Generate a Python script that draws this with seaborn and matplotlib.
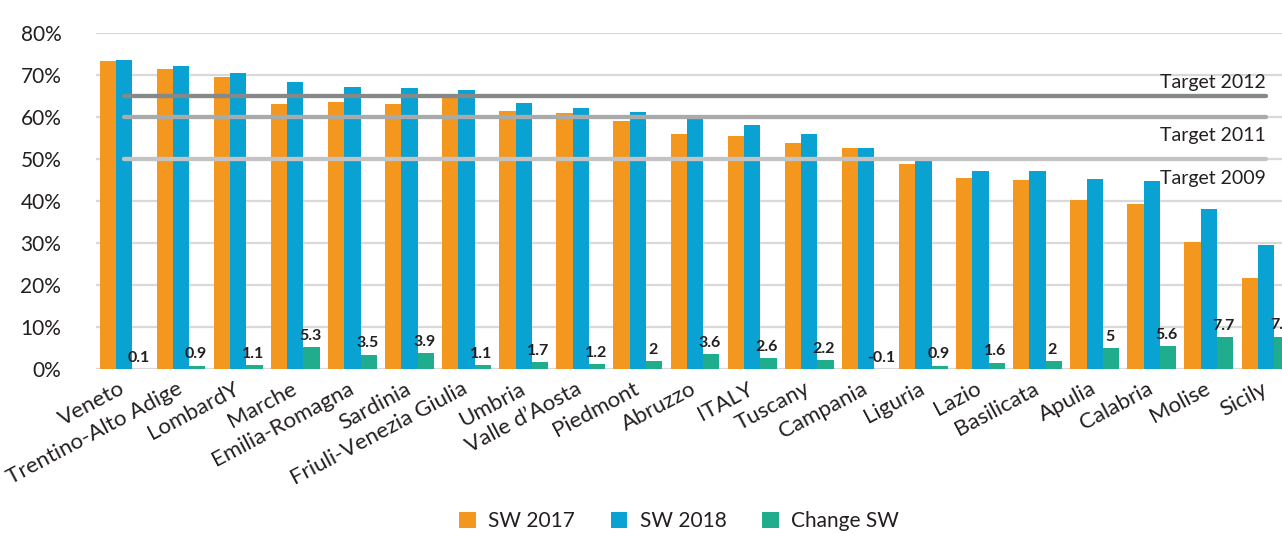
import matplotlib
matplotlib.use("Agg")
import matplotlib.pyplot as plt
import matplotlib.transforms as mtransforms
import seaborn as sns
import pandas as pd

# ---- data ----
regions = ["Veneto", "Trentino-Alto Adige", "LombardY", "Marche", "Emilia-Romagna",
           "Sardinia", "Friuli-Venezia Giulia", "Umbria", "Valle d’Aosta", "Piedmont",
           "Abruzzo", "ITALY", "Tuscany", "Campania", "Liguria", "Lazio", "Basilicata",
           "Apulia", "Calabria", "Molise", "Sicily"]
sw2017 = [73.5, 71.4, 69.5, 63.2, 63.7, 63.1, 65.4, 61.6, 61.0, 59.2, 56.1, 55.6,
          53.9, 52.7, 48.9, 45.6, 45.1, 40.3, 39.3, 30.4, 21.7]
sw2018 = [73.6, 72.3, 70.6, 68.5, 67.2, 67.0, 66.5, 63.3, 62.2, 61.2, 59.7, 58.2,
          56.1, 52.6, 49.8, 47.2, 47.1, 45.3, 44.9, 38.1, 29.5]
change_sw = [0.1, 0.9, 1.1, 5.3, 3.5, 3.9, 1.1, 1.7, 1.2, 2, 3.6, 2.6, 2.2, -0.1,
             0.9, 1.6, 2, 5, 5.6, 7.7, 7.8]
series_names = ["SW 2017", "SW 2018", "Change SW"]
target_labels = ["Target 2012", "Target 2011", "Target 2009"]
target_values = [65, 60, 50]
yticks = [0, 10, 20, 30, 40, 50, 60, 70, 80]

colors = ["#F4971F", "#0AA2D3", "#1FAD8E"]
target_colors = ["#858988", "#A9ABAA", "#C3C3C3"]

df = pd.DataFrame({
    "region": regions * 3,
    "series": [s for s in series_names for _ in regions],
    "value": sw2017 + sw2018 + change_sw,
})

sns.set_theme(style="white")
plt.rcParams["font.family"] = ["Lato", "DejaVu Sans"]
text_color = "#231F20"

fig = plt.figure(figsize=(12.82, 5.34), dpi=100)
ax = fig.add_axes([96 / 1282, 1 - 369.3 / 534, 1 - 96 / 1282, (369.3 - 33.3) / 534])

sns.barplot(data=df, x="region", y="value", hue="series", order=regions,
            hue_order=series_names, palette=colors, saturation=1, width=0.855,
            gap=0, linewidth=0, legend=False, ax=ax, zorder=2)

ax.set_ylim(0, 80)
ax.set_xlim(-0.49, 20.28)
ax.set_yticks(yticks)
ax.set_yticklabels([f"{t}%" for t in yticks], fontsize=15, color=text_color)
for s in ax.spines.values():
    s.set_visible(False)
ax.yaxis.grid(True, color="#D9D9D9", linewidth=1.6, zorder=0)
ax.set_axisbelow(True)
ax.tick_params(axis="y", length=0, pad=25)
ax.tick_params(axis="x", length=0, pad=6)
ax.set_xticks(range(len(regions)))
ax.set_xticklabels(regions, rotation=28, ha="right", va="top", rotation_mode="anchor",
                   fontsize=16, color=text_color)
shift = mtransforms.ScaledTranslation(-5 / 100, -1 / 100, fig.dpi_scale_trans)
for lab in ax.get_xticklabels():
    lab.set_transform(lab.get_transform() + shift)
ax.set_xlabel("")
ax.set_ylabel("")

# target lines
n = len(regions)
offsets = [10, -13, -14]
for lab, val, col, off in zip(target_labels, target_values, target_colors, offsets):
    ax.plot([0, n - 1], [val, val], color=col, lw=3.1, solid_capstyle="round",
            zorder=4, clip_on=False)
    ax.annotate(lab, xy=(n - 1, val), xytext=(0, off), textcoords="offset points",
                ha="right", va="center", fontsize=14, color=text_color, zorder=5)

# change labels
change_container = ax.containers[2]
for patch, v in zip(change_container.patches, change_sw):
    xc = patch.get_x() + patch.get_width() / 2
    ax.annotate(f"{v:g}", xy=(xc, max(v, 0)), xytext=(-1, 3),
                textcoords="offset points", ha="center", va="bottom",
                fontsize=11.5, fontweight="bold", color=text_color, zorder=5,
                annotation_clip=False)

# legend
ax.legend(handles=ax.containers[:3], labels=series_names, loc="center",
          bbox_to_anchor=(679 / 1282, 13 / 534), bbox_transform=fig.transFigure,
          ncol=3, frameon=False, fontsize=15, handlelength=0.8, handleheight=0.8,
          handletextpad=0.6, columnspacing=1.7, labelcolor=text_color)

fig.savefig("out.png", dpi=100)
